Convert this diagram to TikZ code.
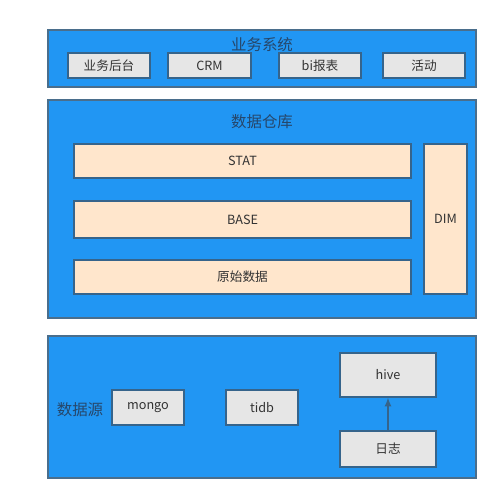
\documentclass[tikz,border=0pt]{standalone}
\usepackage{fontspec}
\setmainfont{Noto Sans CJK SC}
\usepackage{tikz}
\usetikzlibrary{arrows.meta}
\usetikzlibrary{fit}
\definecolor{layerblue}{HTML}{2196F3}
\definecolor{layerline}{HTML}{4A6E8C}
\definecolor{itemgray}{HTML}{E6E6E6}
\definecolor{itemline}{HTML}{36648B}
\definecolor{peach}{HTML}{FFE6CC}
\definecolor{textgray}{HTML}{333333}
\definecolor{titletext}{HTML}{26476B}

\begin{document}
\begin{tikzpicture}[x=0.02cm, y=-0.02cm,
		layer/.style = {draw=layerline, fill=layerblue, line width=0.8pt, inner sep=0pt},
		item/.style = {draw=itemline, fill=itemgray, line width=0.7pt, inner sep=0pt},
		tablebox/.style = {item, fill=peach},
		title/.style = {text=titletext, font=\fontsize{8.8}{10}\selectfont},
		every label/.style = {text=textgray, font=\fontsize{7.2}{8}\selectfont}]
		\useasboundingbox (0,0) rectangle (499,502);

		\begin{scope}
				% three layers
				\foreach \n/\sx/\sy/\ex/\ey in{
						sys/48/30/476/87,
						dw/48/100/476/318,
						src/48/336/476/478
				}{
				\node[layer, fit={(\sx,\sy)(\ex,\ey)}](\n){};
				}
				\node[title] (t1) at (262,45){业务系统};
				\node[title] (t2) at (262,122){数据仓库};
				\node[title] (t3) at (80,410){数据源};
		\end{scope}

		\begin{scope}
				\foreach \n/\sx/\ex/\c in{
						bk/68/150/业务后台,
						crm/168/251/CRM,
						bi/279/361/bi报表,
						act/383/465/活动
				}{
				\node[item, fit={(\sx,53)(\ex,78)}, label = center: \c](\n){};
				}

				\foreach \n/\sy/\ey/\c in{
						stat/144/178/STAT,
						base/201/238/BASE,
						raw/260/294/原始数据
				}{
				\node[tablebox, fit={(74,\sy)(411,\ey)}, label = center: \c](\n){};
				}
				\node[tablebox, fit={(424,144)(467,294)}, label = center: DIM](dim){};

				\foreach \n/\sx/\sy/\ex/\ey/\c in{
						mongo/112/390/184/425/mongo,
						tidb/226/390/298/425/tidb,
						hive/340/353/436/397/hive,
						log/340/431/436/467/日志
				}{
				\node[item, fit={(\sx,\sy)(\ex,\ey)}, label = center: \c](\n){};
				}

				\draw[-{Latex[length=5pt,width=4pt]}, itemline, line width=0.8pt] (log) -- (hive);
		\end{scope}
\end{tikzpicture}
\end{document}
